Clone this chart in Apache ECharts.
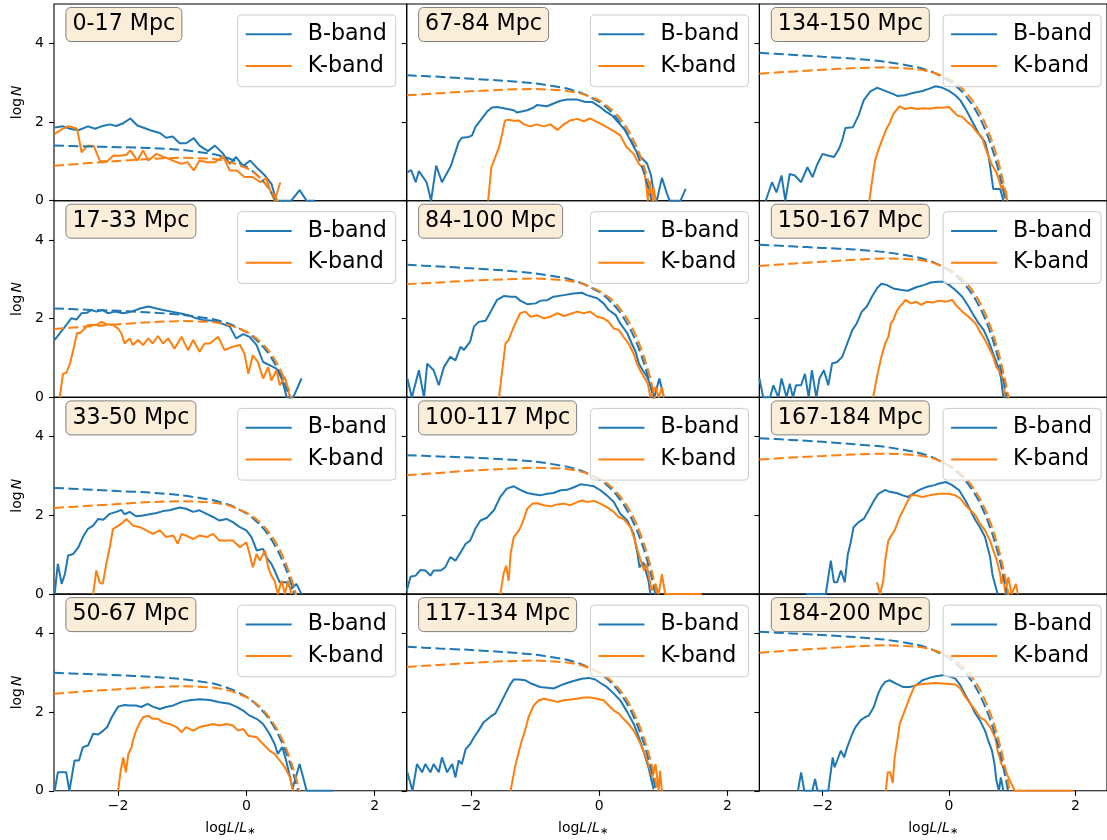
<!DOCTYPE html>
<html><head><meta charset="utf-8">
<script src="https://cdn.jsdelivr.net/npm/echarts@6/dist/echarts.min.js"></script>
<style>html,body{margin:0;padding:0;background:#fff}#c{width:1107px;height:840px}</style>
</head><body><div id="c"></div>
<script>
// ---------- data ----------
const TITLES = ['0-17 Mpc','67-84 Mpc','134-150 Mpc','17-33 Mpc','84-100 Mpc','150-167 Mpc',
                '33-50 Mpc','100-117 Mpc','167-184 Mpc','50-67 Mpc','117-134 Mpc','184-200 Mpc'];
const X_TICKS = [-2, 0, 2];
const Y_TICKS = [0, 2, 4];
const FIT_X = [-3,-2.5,-2,-1.5,-1,-0.5,-0.25,0,0.1,0.2,0.3,0.4,0.5,0.6,0.7,0.8,0.9,1.0];

const B_0_17 = [[-2.99,1.86],[-2.86,1.89],[-2.75,1.83],[-2.62,1.79],[-2.47,1.89],[-2.36,1.83],[-2.26,1.89],[-2.13,1.94],[-2.03,1.90],[-1.92,1.97],[-1.81,2.09],[-1.70,1.91],[-1.56,1.83],[-1.46,1.77],[-1.35,1.72],[-1.25,1.60],[-1.15,1.63],[-1.04,1.46],[-0.94,1.46],[-0.82,1.59],[-0.73,1.40],[-0.60,1.26],[-0.49,1.40],[-0.37,1.21],[-0.26,0.94],[-0.16,1.11],[-0.05,0.88],[0.06,1.02],[0.18,0.81],[0.29,0.64],[0.39,0.43],[0.47,0.0],[0.70,0.0],[0.83,0.27],[0.94,0.0],[1.07,0.0]];
const K_0_17 = [[-2.99,1.70],[-2.86,1.83],[-2.78,1.89],[-2.70,1.86],[-2.64,1.83],[-2.57,1.23],[-2.48,1.40],[-2.38,1.39],[-2.28,1.00],[-2.17,1.00],[-2.07,1.15],[-1.97,1.14],[-1.87,1.17],[-1.81,1.28],[-1.70,1.02],[-1.61,1.28],[-1.53,1.02],[-1.40,1.19],[-1.30,1.12],[-1.20,1.06],[-1.12,1.00],[-1.01,0.94],[-0.92,0.98],[-0.82,0.77],[-0.73,1.02],[-0.61,0.98],[-0.49,0.98],[-0.36,1.12],[-0.26,0.77],[-0.15,0.77],[-0.03,0.60],[0.10,0.60],[0.22,0.47],[0.31,0.58],[0.37,0.26],[0.44,0.0],[0.53,0.47]];
const BFIT_0_17 = [1.40,1.38,1.36,1.34,1.29,1.18,1.06,0.86,0.75,0.60,0.42,0.19,-0.10,-0.45];
const KFIT_0_17 = [0.89,0.95,1.01,1.06,1.09,1.06,0.98,0.83,0.73,0.60,0.43,0.22,-0.05,-0.40];

const B_67_84 = [[-2.99,0.72],[-2.93,0.78],[-2.86,0.47],[-2.81,0.75],[-2.69,0.47],[-2.62,0.0],[-2.54,0.89],[-2.45,0.47],[-2.31,0.89],[-2.19,1.49],[-2.14,1.60],[-2.03,1.62],[-1.98,1.66],[-1.93,1.87],[-1.85,2.04],[-1.75,2.26],[-1.67,2.37],[-1.59,2.38],[-1.33,2.30],[-1.28,2.24],[-1.12,2.30],[-1.02,2.37],[-0.97,2.43],[-0.81,2.40],[-0.71,2.47],[-0.60,2.54],[-0.50,2.57],[-0.34,2.57],[-0.21,2.51],[-0.11,2.51],[0.0,2.40],[0.10,2.27],[0.20,2.17],[0.31,1.97],[0.40,1.80],[0.49,1.53],[0.57,1.28],[0.65,1.11],[0.75,0.94],[0.81,0.64],[0.86,0.13],[0.90,0.0],[0.98,0.58],[1.06,0.17],[1.10,0.0],[1.27,0.0],[1.35,0.30]];
const K_67_84 = [[-1.73,0.0],[-1.68,0.85],[-1.62,1.10],[-1.56,1.36],[-1.51,1.70],[-1.48,1.96],[-1.46,2.04],[-1.42,2.06],[-1.33,2.03],[-1.25,2.04],[-1.17,1.94],[-1.07,1.89],[-0.97,1.94],[-0.86,1.89],[-0.76,1.94],[-0.65,1.80],[-0.55,1.94],[-0.45,2.04],[-0.34,2.08],[-0.24,2.02],[-0.14,2.09],[-0.03,2.00],[0.02,1.96],[0.12,1.87],[0.23,1.77],[0.33,1.66],[0.43,1.36],[0.54,1.19],[0.62,0.94],[0.70,0.81],[0.74,0.34],[0.76,0.0],[0.79,0.50],[0.82,0.0],[0.85,0.34],[0.88,0.0]];
const BFIT_67_84 = [3.19,3.15,3.10,3.05,2.98,2.85,2.72,2.51,2.39,2.24,2.05,1.82,1.53,1.17,0.71,0.14,-0.58];
const KFIT_67_84 = [2.68,2.73,2.78,2.82,2.84,2.79,2.71,2.55,2.44,2.31,2.14,1.93,1.66,1.31,0.87,0.32,-0.38];

const B_134_150 = [[-2.90,0.0],[-2.80,0.47],[-2.73,0.21],[-2.65,0.64],[-2.59,0.0],[-2.52,0.68],[-2.44,0.64],[-2.34,0.47],[-2.24,0.85],[-2.16,0.60],[-2.08,0.94],[-2.00,1.19],[-1.92,1.15],[-1.82,1.11],[-1.74,1.32],[-1.69,1.53],[-1.64,1.85],[-1.52,1.87],[-1.43,2.17],[-1.35,2.55],[-1.25,2.77],[-1.14,2.87],[-1.07,2.83],[-0.88,2.71],[-0.81,2.66],[-0.70,2.68],[-0.57,2.74],[-0.42,2.79],[-0.31,2.85],[-0.21,2.91],[-0.10,2.87],[0.0,2.79],[0.10,2.68],[0.18,2.55],[0.26,2.34],[0.36,2.04],[0.47,1.70],[0.57,1.49],[0.63,1.11],[0.70,0.30],[0.81,0.30],[0.86,0.0]];
const K_134_150 = [[-1.26,0.0],[-1.22,0.47],[-1.17,1.02],[-1.12,1.28],[-1.04,1.62],[-0.99,1.83],[-0.94,1.97],[-0.88,2.21],[-0.83,2.31],[-0.78,2.40],[-0.70,2.33],[-0.60,2.36],[-0.50,2.33],[-0.40,2.35],[-0.30,2.34],[-0.20,2.37],[-0.10,2.36],[0.0,2.38],[0.05,2.30],[0.13,2.17],[0.21,2.13],[0.29,2.0],[0.36,1.91],[0.44,1.74],[0.52,1.62],[0.57,1.36],[0.62,1.15],[0.67,0.94],[0.75,0.72],[0.80,0.47],[0.83,0.30],[0.85,0.40],[0.88,0.10],[0.90,0.25],[0.92,0.0]];
const BFIT_134_150 = [3.76,3.71,3.66,3.61,3.53,3.39,3.26,3.05,2.93,2.78,2.59,2.36,2.07,1.70,1.24,0.67,-0.05,-0.95];
const KFIT_134_150 = [3.23,3.28,3.33,3.37,3.39,3.34,3.26,3.10,2.99,2.86,2.69,2.48,2.21,1.86,1.42,0.87,0.17,-0.71];

const B_17_33 = [[-2.99,1.46],[-2.91,1.63],[-2.81,1.84],[-2.73,2.01],[-2.65,1.98],[-2.57,2.14],[-2.49,2.15],[-2.42,2.22],[-2.34,2.18],[-2.24,2.22],[-2.16,2.14],[-2.05,2.18],[-1.92,2.14],[-1.79,2.18],[-1.66,2.26],[-1.53,2.31],[-1.40,2.26],[-1.30,2.22],[-1.17,2.18],[-1.04,2.14],[-0.91,2.09],[-0.78,2.01],[-0.68,1.97],[-0.52,1.95],[-0.42,1.90],[-0.26,1.80],[-0.16,1.50],[-0.05,1.61],[0.05,1.54],[0.16,1.33],[0.26,0.90],[0.36,0.82],[0.47,0.73],[0.55,0.48],[0.60,0.18],[0.63,0.0],[0.73,0.0],[0.86,0.48]];
const K_17_33 = [[-2.91,0.0],[-2.86,0.60],[-2.81,0.62],[-2.75,0.86],[-2.70,1.20],[-2.64,1.64],[-2.59,1.64],[-2.52,1.75],[-2.47,1.84],[-2.34,1.84],[-2.26,1.92],[-2.18,1.86],[-2.08,1.84],[-2.0,1.75],[-1.95,1.63],[-1.90,1.37],[-1.82,1.50],[-1.77,1.33],[-1.69,1.46],[-1.61,1.33],[-1.53,1.50],[-1.46,1.37],[-1.38,1.56],[-1.30,1.37],[-1.22,1.50],[-1.12,1.24],[-1.01,1.54],[-0.91,1.20],[-0.83,1.46],[-0.73,1.16],[-0.65,1.37],[-0.57,1.37],[-0.44,1.54],[-0.34,1.20],[-0.21,1.29],[-0.10,1.33],[-0.03,1.11],[0.03,0.60],[0.10,1.07],[0.18,0.90],[0.26,0.48],[0.34,0.77],[0.39,0.43],[0.47,0.69],[0.52,0.31],[0.60,0.52],[0.65,0.18],[0.68,0.0]];
const BFIT_17_33 = [2.26,2.23,2.20,2.16,2.10,1.98,1.86,1.66,1.54,1.39,1.21,0.98,0.69,0.33,-0.13,-0.70];
const KFIT_17_33 = [1.74,1.80,1.86,1.91,1.94,1.91,1.83,1.67,1.57,1.44,1.28,1.07,0.80,0.45,0.02,-0.54];

const B_84_100 = [[-2.99,0.48],[-2.92,0.0],[-2.81,0.69],[-2.73,0.0],[-2.68,0.86],[-2.58,0.69],[-2.50,0.31],[-2.42,0.77],[-2.32,1.03],[-2.24,0.94],[-2.16,1.29],[-2.11,1.20],[-2.01,1.42],[-1.95,1.80],[-1.88,1.92],[-1.77,1.95],[-1.69,2.18],[-1.59,2.48],[-1.48,2.58],[-1.38,2.56],[-1.30,2.56],[-1.23,2.46],[-1.12,2.37],[-0.99,2.39],[-0.91,2.46],[-0.81,2.47],[-0.71,2.56],[-0.55,2.60],[-0.40,2.64],[-0.27,2.66],[-0.19,2.60],[-0.03,2.52],[0.07,2.39],[0.15,2.22],[0.26,2.09],[0.33,1.88],[0.44,1.63],[0.51,1.37],[0.57,1.16],[0.62,0.86],[0.68,0.69],[0.75,0.52],[0.81,0.26],[0.86,0.0],[0.94,0.48],[1.01,0.0]];
const K_84_100 = [[-1.56,0.0],[-1.51,0.69],[-1.46,1.37],[-1.41,1.46],[-1.33,1.80],[-1.23,2.14],[-1.15,2.18],[-1.07,2.05],[-0.97,2.09],[-0.86,2.01],[-0.76,2.05],[-0.65,2.14],[-0.55,2.07],[-0.45,2.12],[-0.34,2.18],[-0.24,2.14],[-0.14,2.18],[-0.03,2.05],[0.07,2.01],[0.15,1.92],[0.23,1.75],[0.31,1.71],[0.38,1.54],[0.46,1.37],[0.54,1.11],[0.59,0.86],[0.64,0.69],[0.70,0.52],[0.76,0.35],[0.80,0.0],[0.88,0.26],[0.93,0.0],[0.98,0.26],[1.01,0.0]];
const BFIT_84_100 = [3.37,3.33,3.28,3.23,3.15,3.02,2.89,2.68,2.56,2.40,2.22,1.98,1.69,1.33,0.87,0.30,-0.42];
const KFIT_84_100 = [2.88,2.92,2.97,3.00,3.02,2.97,2.88,2.71,2.61,2.48,2.31,2.09,1.82,1.47,1.03,0.48,-0.22];

const B_150_167 = [[-3.0,0.48],[-2.94,0.0],[-2.83,0.0],[-2.78,0.31],[-2.70,0.0],[-2.65,0.48],[-2.57,0.0],[-2.52,0.35],[-2.47,0.0],[-2.42,0.31],[-2.34,0.31],[-2.28,0.60],[-2.22,0.0],[-2.17,0.69],[-2.10,0.0],[-2.05,0.48],[-1.98,0.69],[-1.91,0.31],[-1.85,0.86],[-1.77,0.90],[-1.69,1.03],[-1.61,1.37],[-1.53,1.71],[-1.46,1.88],[-1.38,2.18],[-1.30,2.31],[-1.22,2.56],[-1.14,2.77],[-1.07,2.89],[-0.99,2.86],[-0.88,2.77],[-0.75,2.73],[-0.65,2.71],[-0.52,2.80],[-0.39,2.86],[-0.29,2.92],[-0.18,2.94],[-0.08,2.94],[0.0,2.86],[0.10,2.73],[0.21,2.56],[0.31,2.31],[0.39,2.09],[0.47,1.88],[0.55,1.71],[0.62,1.46],[0.70,1.11],[0.78,0.77],[0.82,0.52],[0.86,0.0]];
const K_150_167 = [[-1.20,0.0],[-1.14,0.52],[-1.07,1.03],[-1.01,1.37],[-0.96,1.54],[-0.92,1.88],[-0.88,1.97],[-0.83,2.18],[-0.78,2.31],[-0.73,2.39],[-0.69,2.48],[-0.60,2.39],[-0.52,2.43],[-0.44,2.35],[-0.36,2.43],[-0.26,2.41],[-0.16,2.46],[-0.05,2.43],[0.05,2.48],[0.13,2.31],[0.21,2.18],[0.31,2.05],[0.42,1.88],[0.49,1.67],[0.57,1.46],[0.65,1.20],[0.70,1.03],[0.75,0.77],[0.81,0.65],[0.86,0.43],[0.89,0.0]];
const BFIT_150_167 = [3.88,3.84,3.80,3.76,3.69,3.56,3.44,3.23,3.11,2.96,2.77,2.54,2.25,1.89,1.43,0.86,0.15,-0.75];
const KFIT_150_167 = [3.34,3.40,3.45,3.50,3.53,3.50,3.42,3.26,3.16,3.03,2.86,2.65,2.38,2.03,1.60,1.04,0.35,-0.54];

const B_33_50 = [[-2.99,0.0],[-2.94,0.77],[-2.88,0.26],[-2.83,0.51],[-2.78,0.98],[-2.70,1.02],[-2.62,1.19],[-2.55,1.45],[-2.47,1.66],[-2.39,1.74],[-2.31,1.91],[-2.23,1.89],[-2.13,2.04],[-2.03,2.09],[-1.95,2.14],[-1.90,2.03],[-1.82,2.09],[-1.72,1.98],[-1.61,2.00],[-1.51,2.03],[-1.40,2.06],[-1.30,2.11],[-1.20,2.13],[-1.04,2.20],[-0.94,2.17],[-0.83,2.09],[-0.73,2.13],[-0.62,2.04],[-0.52,1.96],[-0.42,1.87],[-0.31,1.91],[-0.21,1.83],[-0.10,1.70],[0.0,1.62],[0.08,1.45],[0.16,1.11],[0.26,1.15],[0.31,0.94],[0.39,0.77],[0.44,0.60],[0.52,0.30],[0.62,0.30],[0.70,0.13],[0.78,0.26],[0.86,0.0]];
const K_33_50 = [[-2.39,0.0],[-2.34,0.60],[-2.29,0.30],[-2.24,0.26],[-2.18,0.81],[-2.13,1.19],[-2.08,1.66],[-2.03,1.70],[-1.95,1.79],[-1.87,1.91],[-1.82,1.83],[-1.77,1.74],[-1.66,1.70],[-1.56,1.62],[-1.46,1.53],[-1.35,1.62],[-1.25,1.45],[-1.14,1.49],[-1.07,1.28],[-1.01,1.53],[-0.94,1.49],[-0.83,1.40],[-0.73,1.49],[-0.62,1.45],[-0.52,1.53],[-0.42,1.36],[-0.31,1.36],[-0.21,1.36],[-0.10,1.19],[0.0,1.32],[0.05,1.02],[0.10,0.68],[0.16,1.02],[0.21,0.85],[0.29,1.11],[0.34,0.68],[0.39,0.47],[0.44,0.34],[0.49,0.0],[0.55,0.34],[0.60,0.0],[0.65,0.34],[0.70,0.0]];
const BFIT_33_50 = [2.70,2.66,2.62,2.58,2.51,2.38,2.26,2.05,1.93,1.78,1.60,1.36,1.07,0.71,0.26,-0.32];
const KFIT_33_50 = [2.19,2.24,2.29,2.34,2.36,2.32,2.24,2.07,1.97,1.84,1.67,1.46,1.19,0.84,0.40,-0.15];

const B_100_117 = [[-3.0,0.08],[-2.94,0.44],[-2.86,0.47],[-2.79,0.61],[-2.71,0.60],[-2.63,0.47],[-2.58,0.60],[-2.47,0.60],[-2.40,0.68],[-2.32,0.94],[-2.24,0.85],[-2.16,1.06],[-2.08,1.28],[-2.01,1.36],[-1.93,1.66],[-1.85,1.87],[-1.75,1.94],[-1.64,2.13],[-1.54,2.47],[-1.44,2.68],[-1.33,2.74],[-1.23,2.65],[-1.12,2.57],[-1.02,2.54],[-0.92,2.51],[-0.81,2.55],[-0.71,2.57],[-0.60,2.64],[-0.50,2.65],[-0.40,2.71],[-0.29,2.79],[-0.19,2.77],[-0.08,2.74],[0.02,2.64],[0.12,2.51],[0.23,2.34],[0.33,2.04],[0.44,1.87],[0.54,1.53],[0.60,1.02],[0.63,0.68],[0.69,0.81],[0.77,0.34],[0.80,0.0]];
const K_100_117 = [[-1.54,0.0],[-1.49,0.51],[-1.45,0.72],[-1.41,0.34],[-1.38,1.02],[-1.33,1.45],[-1.25,1.62],[-1.20,1.79],[-1.12,2.17],[-1.04,2.30],[-0.97,2.31],[-0.86,2.26],[-0.76,2.23],[-0.65,2.28],[-0.55,2.30],[-0.45,2.26],[-0.34,2.34],[-0.26,2.38],[-0.19,2.34],[-0.08,2.37],[0.02,2.30],[0.12,2.21],[0.23,2.09],[0.30,1.96],[0.38,1.91],[0.49,1.70],[0.54,1.45],[0.60,1.11],[0.65,0.85],[0.70,0.60],[0.74,0.77],[0.79,0.34],[0.82,0.09],[0.88,0.26],[0.93,0.0],[0.98,0.51],[1.03,0.0],[1.60,0.0]];
const BFIT_100_117 = [3.53,3.50,3.47,3.43,3.37,3.24,3.12,2.91,2.80,2.65,2.46,2.23,1.94,1.58,1.13,0.56,-0.16];
const KFIT_100_117 = [3.02,3.08,3.14,3.18,3.21,3.18,3.10,2.94,2.84,2.71,2.54,2.33,2.06,1.72,1.28,0.73,0.03,-0.85];

const B_167_184 = [[-2.26,0.0],[-1.95,0.0],[-1.87,0.85],[-1.82,0.30],[-1.77,0.30],[-1.71,0.60],[-1.65,0.30],[-1.60,1.02],[-1.56,1.28],[-1.51,1.70],[-1.43,1.83],[-1.35,1.91],[-1.27,2.13],[-1.20,2.34],[-1.12,2.55],[-1.01,2.65],[-0.94,2.60],[-0.83,2.57],[-0.73,2.51],[-0.65,2.47],[-0.57,2.55],[-0.47,2.65],[-0.36,2.72],[-0.23,2.77],[-0.16,2.81],[-0.05,2.85],[0.05,2.77],[0.16,2.64],[0.26,2.38],[0.34,2.13],[0.42,1.87],[0.49,1.70],[0.57,1.45],[0.65,0.94],[0.69,0.47],[0.72,0.43],[0.77,0.0]];
const K_167_184 = [[-1.14,0.30],[-1.09,0.0],[-1.04,0.34],[-1.01,0.85],[-0.96,1.36],[-0.86,1.62],[-0.78,1.96],[-0.70,2.21],[-0.65,2.38],[-0.60,2.51],[-0.52,2.51],[-0.42,2.47],[-0.31,2.51],[-0.16,2.55],[0.0,2.55],[0.10,2.51],[0.18,2.43],[0.26,2.26],[0.34,2.13],[0.42,2.00],[0.49,1.79],[0.57,1.62],[0.65,1.36],[0.70,1.11],[0.75,0.89],[0.81,0.51],[0.83,0.26],[0.86,0.51],[0.89,0.0],[0.94,0.43],[0.99,0.0],[1.06,0.26],[1.09,0.0]];
const BFIT_167_184 = [3.96,3.92,3.87,3.81,3.74,3.60,3.47,3.26,3.14,2.99,2.80,2.57,2.28,1.91,1.46,0.89,0.17,-0.74];
const KFIT_167_184 = [3.42,3.47,3.51,3.55,3.57,3.53,3.45,3.28,3.18,3.05,2.88,2.66,2.39,2.05,1.61,1.05,0.35,-0.53];

const B_50_67 = [[-2.99,0.0],[-2.94,0.47],[-2.81,0.47],[-2.76,0.0],[-2.68,0.77],[-2.61,0.77],[-2.55,1.11],[-2.47,1.15],[-2.39,1.45],[-2.31,1.43],[-2.23,1.53],[-2.17,1.62],[-2.10,1.87],[-2.0,2.14],[-1.90,2.18],[-1.82,2.17],[-1.72,2.17],[-1.64,2.13],[-1.54,2.21],[-1.46,2.14],[-1.35,2.08],[-1.25,2.13],[-1.14,2.17],[-1.01,2.26],[-0.88,2.30],[-0.73,2.33],[-0.57,2.31],[-0.42,2.25],[-0.26,2.21],[-0.16,2.14],[-0.05,2.04],[0.05,1.91],[0.16,1.83],[0.26,1.70],[0.36,1.45],[0.44,1.19],[0.49,0.94],[0.56,1.11],[0.62,0.77],[0.68,0.35],[0.72,0.05],[0.83,0.68],[0.94,0.0],[1.35,0.0]];
const K_50_67 = [[-2.00,0.0],[-1.96,0.51],[-1.92,0.85],[-1.88,0.47],[-1.84,0.94],[-1.79,1.11],[-1.77,1.28],[-1.72,1.53],[-1.66,1.74],[-1.61,1.87],[-1.53,1.91],[-1.46,1.83],[-1.38,1.83],[-1.30,1.74],[-1.20,1.70],[-1.09,1.62],[-1.01,1.49],[-0.94,1.62],[-0.83,1.53],[-0.73,1.62],[-0.62,1.66],[-0.52,1.70],[-0.42,1.66],[-0.31,1.70],[-0.21,1.66],[-0.13,1.53],[-0.05,1.57],[0.03,1.40],[0.16,1.36],[0.26,1.19],[0.36,1.02],[0.44,0.94],[0.52,0.77],[0.60,0.60],[0.68,0.34],[0.73,0.0]];
const BFIT_50_67 = [3.00,2.97,2.94,2.90,2.84,2.72,2.59,2.39,2.27,2.12,1.94,1.71,1.42,1.06,0.61,0.04,-0.68];
const KFIT_50_67 = [2.47,2.53,2.58,2.63,2.66,2.62,2.54,2.38,2.28,2.15,1.98,1.77,1.50,1.16,0.72,0.17,-0.53];

const B_117_134 = [[-2.99,0.47],[-2.91,0.0],[-2.84,0.68],[-2.76,0.47],[-2.71,0.68],[-2.63,0.47],[-2.58,0.68],[-2.50,0.47],[-2.45,0.85],[-2.37,0.47],[-2.29,0.68],[-2.24,0.34],[-2.19,0.77],[-2.14,0.68],[-2.08,1.06],[-2.01,1.19],[-1.95,1.36],[-1.88,1.53],[-1.80,1.74],[-1.69,1.89],[-1.62,1.96],[-1.54,2.21],[-1.46,2.47],[-1.38,2.72],[-1.33,2.83],[-1.25,2.83],[-1.15,2.81],[-1.05,2.72],[-0.92,2.64],[-0.81,2.62],[-0.71,2.60],[-0.60,2.68],[-0.50,2.74],[-0.40,2.79],[-0.27,2.85],[-0.16,2.87],[-0.06,2.83],[0.02,2.74],[0.12,2.64],[0.23,2.47],[0.33,2.30],[0.44,2.00],[0.54,1.70],[0.62,1.36],[0.69,1.02],[0.77,0.60],[0.85,0.04]];
const K_117_134 = [[-1.38,0.0],[-1.35,0.26],[-1.30,0.68],[-1.22,1.19],[-1.14,1.62],[-1.10,1.87],[-1.02,2.17],[-0.94,2.30],[-0.86,2.34],[-0.76,2.30],[-0.65,2.26],[-0.55,2.30],[-0.45,2.32],[-0.34,2.34],[-0.24,2.37],[-0.14,2.37],[-0.03,2.34],[0.07,2.30],[0.15,2.17],[0.23,2.04],[0.31,1.96],[0.38,1.83],[0.46,1.70],[0.54,1.53],[0.62,1.28],[0.69,1.02],[0.75,0.77],[0.80,0.51],[0.83,0.34],[0.88,0.68],[0.93,0.0],[0.95,0.51],[0.98,0.0]];
const BFIT_117_134 = [3.66,3.62,3.58,3.53,3.46,3.33,3.20,3.00,2.88,2.73,2.54,2.31,2.02,1.65,1.20,0.63,-0.09];
const KFIT_117_134 = [3.15,3.20,3.25,3.29,3.31,3.26,3.18,3.01,2.91,2.78,2.61,2.40,2.12,1.78,1.34,0.79,0.09,-0.80];

const B_184_200 = [[-2.39,0.0],[-2.34,0.47],[-2.29,0.0],[-2.16,0.0],[-2.12,0.30],[-2.08,0.0],[-1.91,0.0],[-1.84,0.85],[-1.81,0.60],[-1.77,0.77],[-1.71,1.02],[-1.66,0.85],[-1.61,1.11],[-1.53,1.45],[-1.48,1.62],[-1.40,1.79],[-1.33,1.87],[-1.27,1.91],[-1.19,2.13],[-1.12,2.47],[-1.07,2.64],[-1.01,2.77],[-0.94,2.81],[-0.83,2.72],[-0.73,2.64],[-0.62,2.64],[-0.52,2.68],[-0.42,2.81],[-0.31,2.87],[-0.21,2.91],[-0.10,2.94],[0.0,2.91],[0.10,2.85],[0.18,2.68],[0.26,2.43],[0.34,2.21],[0.42,1.96],[0.49,1.79],[0.57,1.53],[0.62,1.28],[0.68,1.02],[0.72,0.68],[0.75,0.26],[0.79,0.0],[0.82,0.34],[0.86,0.0]];
const K_184_200 = [[-1.00,0.0],[-0.97,0.47],[-0.93,0.47],[-0.89,0.20],[-0.86,0.85],[-0.81,1.36],[-0.78,1.70],[-0.70,2.04],[-0.62,2.38],[-0.54,2.68],[-0.47,2.70],[-0.36,2.72],[-0.21,2.74],[-0.05,2.72],[0.10,2.70],[0.18,2.60],[0.26,2.38],[0.34,2.21],[0.42,2.04],[0.49,1.87],[0.57,1.79],[0.65,1.62],[0.73,1.36],[0.78,0.94],[0.83,0.68],[0.88,0.55],[0.94,0.34],[0.99,0.17],[1.04,0.0],[1.97,0.0]];
const BFIT_184_200 = [4.04,4.00,3.96,3.91,3.84,3.71,3.58,3.37,3.25,3.10,2.92,2.69,2.40,2.03,1.58,1.01,0.29,-0.61];
const KFIT_184_200 = [3.51,3.57,3.62,3.67,3.70,3.66,3.58,3.42,3.32,3.19,3.02,2.81,2.54,2.19,1.76,1.20,0.51,-0.38];

// panels in row-major order
const PANELS = [
  [B_0_17, K_0_17, BFIT_0_17, KFIT_0_17],
  [B_67_84, K_67_84, BFIT_67_84, KFIT_67_84],
  [B_134_150, K_134_150, BFIT_134_150, KFIT_134_150],
  [B_17_33, K_17_33, BFIT_17_33, KFIT_17_33],
  [B_84_100, K_84_100, BFIT_84_100, KFIT_84_100],
  [B_150_167, K_150_167, BFIT_150_167, KFIT_150_167],
  [B_33_50, K_33_50, BFIT_33_50, KFIT_33_50],
  [B_100_117, K_100_117, BFIT_100_117, KFIT_100_117],
  [B_167_184, K_167_184, BFIT_167_184, KFIT_167_184],
  [B_50_67, K_50_67, BFIT_50_67, KFIT_50_67],
  [B_117_134, K_117_134, BFIT_117_134, KFIT_117_134],
  [B_184_200, K_184_200, BFIT_184_200, KFIT_184_200]
];

// ---------- layout ----------
const BLUE = '#1f77b4', ORANGE = '#ff7f0e';
const FONT = 'DejaVu Sans';
const COL_LEFT = [54, 406.7, 759.4];
const ROW_TOP = [4, 200.7, 397.4, 594.1];
const W = 352.7, H = 196.7;
const minus = v => (v < 0 ? '\u2212' + Math.abs(v) : String(v));

const grid = [], xAxis = [], yAxis = [], series = [], legend = [], title = [];
PANELS.forEach((p, i) => {
  const r = Math.floor(i / 3), c = i % 3;
  grid.push({left: COL_LEFT[c], top: ROW_TOP[r], width: W, height: H,
    show: true, borderColor: '#000', borderWidth: 1.1, backgroundColor: 'rgba(0,0,0,0)'});
  const bottom = r === 3;
  xAxis.push({gridIndex: i, type: 'value', min: -3, max: 2.5, position: 'bottom',
    axisLine: {show: false, onZero: false},
    axisTick: {show: bottom, customValues: X_TICKS, length: 5, lineStyle: {color: '#000', width: 1.1}},
    axisLabel: {show: bottom, customValues: X_TICKS, formatter: minus, color: '#000', fontSize: 14, fontFamily: FONT, margin: 9},
    splitLine: {show: false},
    name: bottom ? '{n|log}{i|L}{n|/}{i|L}{s|\u2217}' : '',
    nameLocation: 'middle', nameGap: 30,
    nameTextStyle: {color: '#000', fontFamily: FONT, fontSize: 14,
      rich: {n: {fontSize: 14, fontFamily: FONT, color: '#000'},
             i: {fontSize: 14, fontFamily: FONT, fontStyle: 'italic', color: '#000'},
             s: {fontSize: 10, fontFamily: FONT, color: '#000', verticalAlign: 'bottom', padding: [6, 0, 0, 0]}}}
  });
  const leftCol = c === 0;
  yAxis.push({gridIndex: i, type: 'value', min: 0, max: 5, position: 'left',
    axisLine: {show: false, onZero: false},
    axisTick: {show: true, customValues: Y_TICKS, length: 5, lineStyle: {color: '#000', width: 1.1}},
    axisLabel: {show: leftCol, customValues: Y_TICKS, color: '#000', fontSize: 14, fontFamily: FONT, margin: 10},
    splitLine: {show: false},
    name: leftCol ? '{n|log}{i|N}' : '',
    nameLocation: 'middle', nameRotate: 90, nameGap: 30,
    nameTextStyle: {color: '#000', fontFamily: FONT, fontSize: 14,
      rich: {n: {fontSize: 14, fontFamily: FONT, color: '#000'},
             i: {fontSize: 14, fontFamily: FONT, fontStyle: 'italic', color: '#000', padding: [0, 0, 0, 2]}}}
  });
  const base = {type: 'line', xAxisIndex: i, yAxisIndex: i, symbol: 'none', showSymbol: false,
    animation: false, silent: true, emphasis: {disabled: true}};
  series.push(Object.assign({}, base, {name: 'B-band', data: p[0], z: 3,
    itemStyle: {color: BLUE}, lineStyle: {color: BLUE, width: 2}}));
  series.push(Object.assign({}, base, {name: 'K-band', data: p[1], z: 3,
    itemStyle: {color: ORANGE}, lineStyle: {color: ORANGE, width: 2}}));
  series.push(Object.assign({}, base, {name: 'B-band Schechter', smooth: 0.2, z: 3,
    data: p[2].map((y, j) => [FIT_X[j], y]),
    itemStyle: {color: BLUE}, lineStyle: {color: BLUE, width: 2, type: [10, 4.4]}}));
  series.push(Object.assign({}, base, {name: 'K-band Schechter', smooth: 0.2, z: 3,
    data: p[3].map((y, j) => [FIT_X[j], y]),
    itemStyle: {color: ORANGE}, lineStyle: {color: ORANGE, width: 2, type: [10, 4.4]}}));
  legend.push({data: ['B-band', 'K-band'], orient: 'vertical',
    left: COL_LEFT[c] + 183.7, top: ROW_TOP[r] + 11,
    icon: 'rect', itemWidth: 46, itemHeight: 2, itemGap: 5.7,
    padding: [6.3, 9, 7.7, 8], backgroundColor: 'rgba(255,255,255,0.8)',
    borderColor: '#cccccc', borderWidth: 1, borderRadius: 4, selectedMode: false,
    textStyle: {fontSize: 22.2, fontFamily: FONT, color: '#000', lineHeight: 26, padding: [0, 0, 0, 11]}});
  title.push({text: TITLES[i], left: COL_LEFT[c] + 11.7, top: ROW_TOP[r] + 3,
    padding: [6, 6.7, 6, 6.7], backgroundColor: '#faeed9', borderColor: '#808080',
    borderWidth: 1, borderRadius: 5,
    textStyle: {fontSize: 22.2, fontWeight: 'normal', fontFamily: FONT, color: '#000', lineHeight: 23}});
});

const chart = echarts.init(document.getElementById('c'), null, {renderer: 'canvas'});
chart.setOption({animation: false, backgroundColor: '#fff', textStyle: {fontFamily: FONT},
  grid, xAxis, yAxis, series, legend, title});
</script>
</body></html>
